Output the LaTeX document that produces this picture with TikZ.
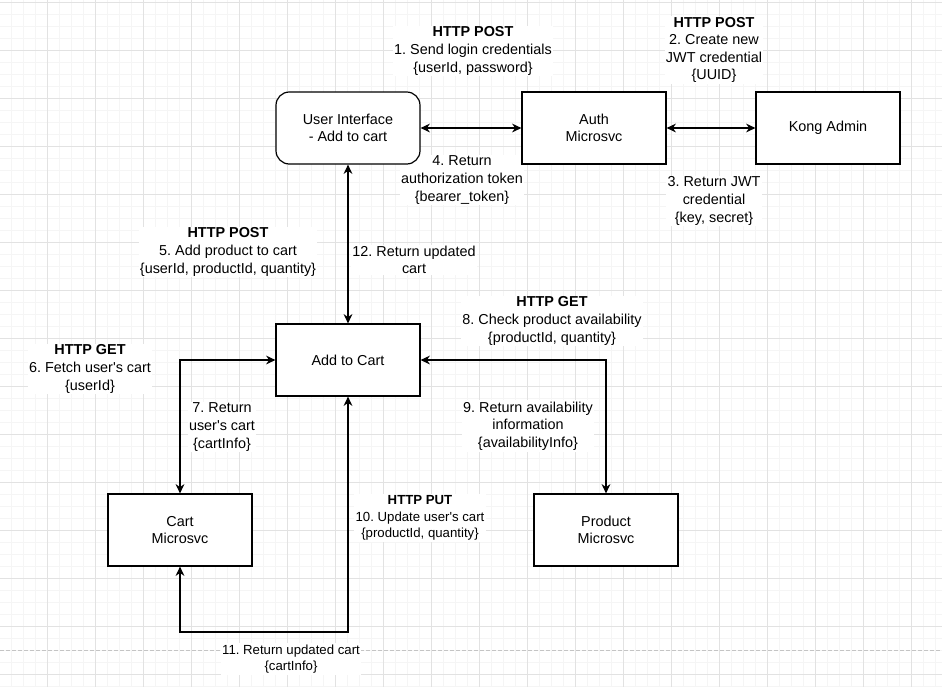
\documentclass[tikz,border=0pt]{standalone}
\usepackage{fontspec}
\setmainfont{Liberation Sans}
\usetikzlibrary{arrows.meta}
\frenchspacing

\definecolor{minorgrid}{HTML}{F5F5F5}
\definecolor{majorgrid}{HTML}{E2E2E2}
\definecolor{pagebreak}{HTML}{C4C4C4}

\newcommand{\apo}{\textquotesingle}

\tikzset{
  txt/.style={font=\fontsize{10.8}{13.2}\selectfont, text=black},
  smalltxt/.style={font=\fontsize{9.9}{12.4}\selectfont, text=black},
  box/.style={txt, draw=black, fill=white, line width=0.9pt, rectangle,
              minimum width=108pt, minimum height=54pt, align=center, inner sep=0pt},
  roundbox/.style={box, rounded corners=10pt},
  lbl/.style={txt, fill=white, align=center, inner sep=1pt},
  smalllbl/.style={lbl, smalltxt},
  tipx/.tip={Stealth[length=7pt,width=6.6pt,inset=2.3pt]},
  link/.style={draw=black, line width=0.9pt, {tipx}-{tipx}},
}

\begin{document}
\begin{tikzpicture}[x=0.75pt,y=-0.75pt]
  \useasboundingbox (0,0) rectangle (942,687);
  \fill[white] (0,0) rectangle (942,687);

  % background grid: fine lines every 12 px, strong lines every 48 px
  \foreach \x in {11.5,23.5,...,942} \draw[minorgrid, line width=0.75pt] (\x,0) -- (\x,687);
  \foreach \y in {2.3,14.3,...,687} \draw[minorgrid, line width=0.75pt] (0,\y) -- (942,\y);
  \foreach \x in {47.5,95.5,...,942} \draw[majorgrid, line width=0.75pt] (\x,0) -- (\x,687);
  \foreach \y in {2.3,50.3,...,687} \draw[majorgrid, line width=0.75pt] (0,\y) -- (942,\y);

  % page break
  \draw[pagebreak, line width=0.75pt, dash pattern=on 3pt off 1.5pt] (0,650) -- (942,650);

  % connector labels (set first so boxes and lines stay on top)
  \node[lbl] (l1)  at (473,51)  {{\bfseries HTTP POST}\\1. Send login credentials\\\{userId, password\}};
  \node[lbl] (l2)  at (714,50)  {{\bfseries HTTP POST}\\2. Create new\\JWT credential\\\{UUID\}};
  \node[lbl] (l3)  at (714,201) {3. Return JWT\\credential\\\{key, secret\}};
  \node[lbl] (l4)  at (462,180) {4. Return\\authorization token\\\{bearer\_token\}};
  \node[lbl] (l5)  at (228,252) {{\bfseries HTTP POST}\\5. Add product to cart\\\{userId, productId, quantity\}};
  \node[lbl] (l12) at (414,260) {12. Return updated\\cart};
  \node[lbl] (l6)  at (90,369)  {{\bfseries HTTP GET}\\6. Fetch user\apo s cart\\\{userId\}};
  \node[lbl] (l7)  at (222,427) {7. Return\\user\apo s cart\\\{cartInfo\}};
  \node[lbl] (l8)  at (552,321) {{\bfseries HTTP GET}\\8. Check product availability\\\{productId, quantity\}};
  \node[lbl] (l9)  at (528,426) {9. Return availability\\information\\\{availabilityInfo\}};
  \node[smalllbl] (l10) at (420,518) {{\bfseries HTTP PUT}\\10. Update user\apo s cart\\\{productId, quantity\}};
  \node[smalllbl] (l11) at (291,659) {11. Return updated cart\\\{cartInfo\}};

  % components
  \node[roundbox] (ui)   at (348,128) {User Interface\\- Add to cart};
  \node[box]      (auth) at (594,128) {Auth\\Microsvc};
  \node[box]      (kong) at (828,128) {Kong Admin};
  \node[box]      (add)  at (348,360) {Add to Cart};
  \node[box]      (cart) at (180,530) {Cart\\Microsvc};
  \node[box]      (prod) at (606,530) {Product\\Microsvc};

  % connectors
  \coordinate (low) at (0,632);
  \path[link] (ui) -- (auth);
  \path[link] (auth) -- (kong);
  \path[link] (ui) -- (add);
  \path[link] (add.west) -| (cart.north);
  \path[link] (add.east) -| (prod.north);
  \path[link] (add.south) -- (add.south |- low) -| (cart.south);
\end{tikzpicture}
\end{document}
